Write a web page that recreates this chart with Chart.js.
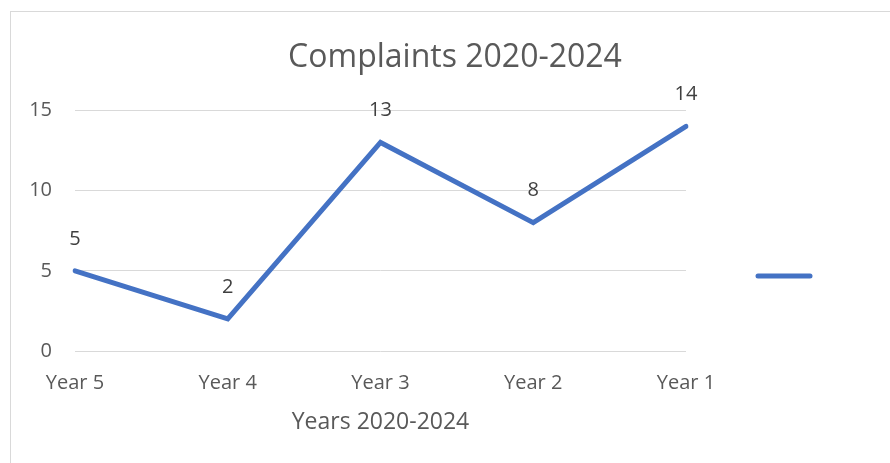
<!DOCTYPE html>
<html>
<head>
<meta charset="utf-8">
<script src="https://cdn.jsdelivr.net/npm/chart.js@4/dist/chart.umd.min.js"></script>
<style>
  html, body { margin: 0; padding: 0; background: #fff; }
  #wrap { width: 890px; height: 463px; }
</style>
</head>
<body>
<div id="wrap"><canvas id="myChart" width="890" height="463"></canvas></div>
<script>
// dados do grafico
const years = ["Year 5", "Year 4", "Year 3", "Year 2", "Year 1"];
const complaints = [5, 2, 13, 8, 14];
const yTicks = [0, 5, 10, 15];

const FONT = "'Open Sans', 'Noto Sans', sans-serif";

// moldura cinza em volta do grafico
const frame = {
  id: "frame",
  beforeDraw(chart) {
    const ctx = chart.ctx;
    ctx.save();
    ctx.fillStyle = "#fff";
    ctx.fillRect(0, 0, chart.width, chart.height);
    ctx.strokeStyle = "#d9d9d9";
    ctx.lineWidth = 1;
    ctx.strokeRect(10.5, 11.5, 1000, 1000);
    ctx.restore();
  },
};

// rotulos com os valores acima de cada ponto
const valueLabels = {
  id: "valueLabels",
  afterDatasetsDraw(chart) {
    const ctx = chart.ctx;
    const meta = chart.getDatasetMeta(0);
    ctx.save();
    ctx.font = "20px " + FONT;
    ctx.fillStyle = "#404040";
    ctx.textAlign = "center";
    ctx.textBaseline = "middle";
    meta.data.forEach((pt, i) => {
      ctx.fillText(String(complaints[i]), pt.x, pt.y - 32);
    });
    ctx.restore();
  },
};

// legenda so com a linha, sem texto
const lineLegend = {
  id: "lineLegend",
  afterDraw(chart) {
    const ctx = chart.ctx;
    const ds = chart.data.datasets[0];
    ctx.save();
    ctx.strokeStyle = ds.borderColor;
    ctx.lineWidth = 5;
    ctx.lineCap = "round";
    ctx.beginPath();
    ctx.moveTo(758, 276);
    ctx.lineTo(810, 276);
    ctx.stroke();
    ctx.restore();
  },
};

const config = {
  type: "line",
  data: {
    labels: years,
    datasets: [
      {
        label: "",
        data: complaints,
        borderColor: "#4472C4",
        backgroundColor: "#4472C4",
        borderWidth: 5,
        borderCapStyle: "round",
        pointRadius: 0,
        tension: 0,
        yAxisID: "y",
      },
    ],
  },
  options: {
    responsive: false,
    animation: false,
    layout: { padding: { left: 20, right: 0, top: 0, bottom: 0 } },
    plugins: {
      legend: { display: false },
      tooltip: { enabled: false },
      title: {
        display: true,
        text: "Complaints 2020-2024",
        color: "#595959",
        font: { family: FONT, size: 32, weight: "normal" },
        padding: { top: 39, bottom: 33 },
      },
    },
    scales: {
      x: {
        offset: false,
        grid: { display: false, drawTicks: false },
        border: { display: false },
        ticks: {
          color: "#595959",
          font: { family: FONT, size: 20 },
          padding: 20,
          maxRotation: 0,
        },
        title: {
          display: true,
          text: "Years 2020-2024",
          color: "#595959",
          font: { family: FONT, size: 23 },
          padding: { top: 0, bottom: 27 },
        },
        afterFit: (s) => { s.height = 112; },
      },
      y: {
        min: 0,
        max: 15,
        afterBuildTicks: (s) => { s.ticks = yTicks.map((v) => ({ value: v })); },
        grid: { color: "#d9d9d9", lineWidth: 1, drawTicks: false },
        border: { display: false },
        ticks: {
          color: "#595959",
          font: { family: FONT, size: 20 },
          padding: 23,
        },
        afterFit: (s) => { s.width = 55; },
      },
      // espaco vazio a direita onde fica a legenda
      yRight: {
        position: "right",
        min: 0,
        max: 15,
        grid: { display: false, drawTicks: false },
        border: { display: false },
        ticks: { display: false },
        afterFit: (s) => { s.width = 204; },
      },
    },
  },
  plugins: [frame, valueLabels, lineLegend],
};

const myChart = new Chart(document.getElementById("myChart"), config);
</script>
</body>
</html>
